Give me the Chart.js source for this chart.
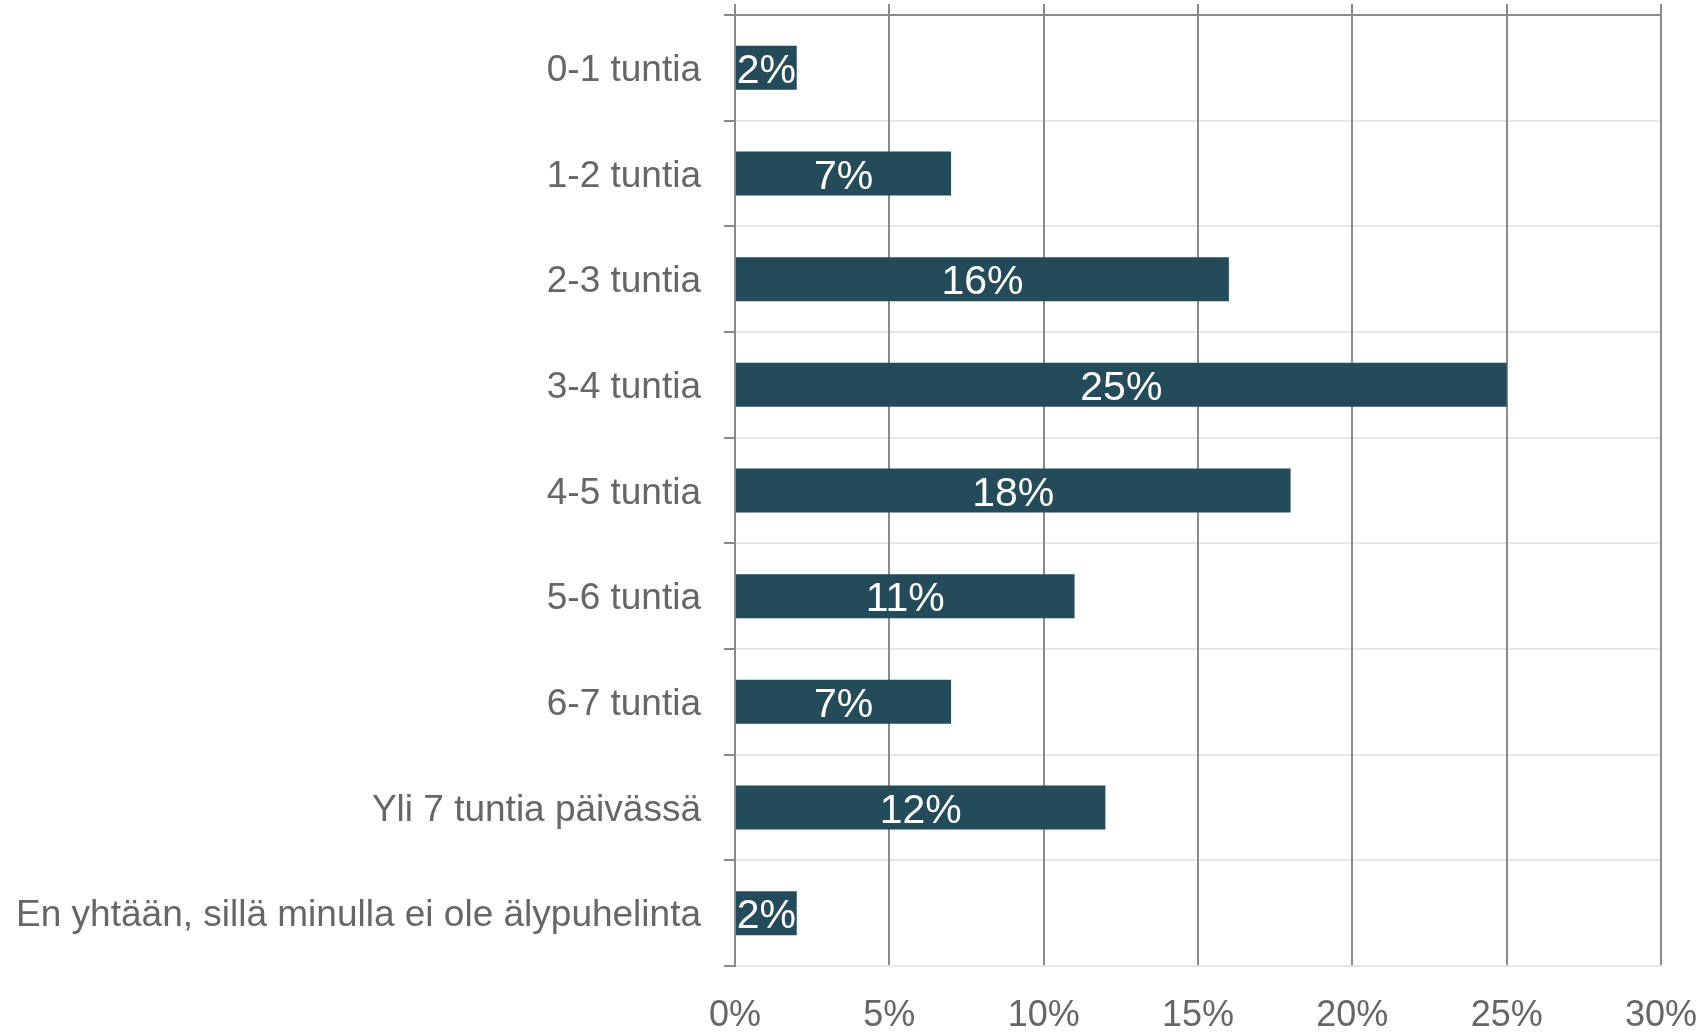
<!DOCTYPE html>
<html>
<head>
<meta charset="utf-8">
<script src="https://cdn.jsdelivr.net/npm/chart.js@4/dist/chart.umd.min.js"></script>
<style>
html,body{margin:0;padding:0;background:#fff;}
#wrap{width:1706px;height:1033px;position:relative;}
</style>
</head>
<body>
<div id="wrap"><canvas id="c" width="1706" height="1033"></canvas></div>
<script>
const categories = [
  "0-1 tuntia",
  "1-2 tuntia",
  "2-3 tuntia",
  "3-4 tuntia",
  "4-5 tuntia",
  "5-6 tuntia",
  "6-7 tuntia",
  "Yli 7 tuntia päivässä",
  "En yhtään, sillä minulla ei ole älypuhelinta"
];
const values = [2, 7, 16, 25, 18, 11, 7, 12, 2];
const xMin = 0, xMax = 30, xStep = 5;

const FONT = "'Liberation Sans', Arial, sans-serif";
const DARK = '#8a8a8a';
const LIGHT = '#e6e6e6';
const TEXT = '#666666';
const BAR = '#234b5a';

const labelPlugin = {
  id: 'barLabels',
  afterDatasetsDraw(chart) {
    const ctx = chart.ctx;
    const meta = chart.getDatasetMeta(0);
    ctx.save();
    ctx.fillStyle = '#ffffff';
    ctx.font = '41px ' + FONT;
    ctx.textAlign = 'center';
    ctx.textBaseline = 'middle';
    meta.data.forEach((bar, i) => {
      const cx = (bar.x + bar.base) / 2;
      ctx.fillText(values[i] + '%', cx, bar.y + 4);
    });
    ctx.restore();
  }
};

function noPad(s) {
  s.paddingTop = 0; s.paddingBottom = 0; s.paddingLeft = 0; s.paddingRight = 0;
}

new Chart(document.getElementById('c'), {
  type: 'bar',
  data: {
    labels: categories,
    datasets: [{
      data: values,
      backgroundColor: BAR,
      borderWidth: 0,
      categoryPercentage: 1,
      barPercentage: 0.416
    }]
  },
  plugins: [labelPlugin],
  options: {
    indexAxis: 'y',
    responsive: false,
    animation: false,
    layout: { padding: { left: 0, right: 45, top: 0, bottom: 0 } },
    plugins: { legend: { display: false }, tooltip: { enabled: false } },
    scales: {
      x: {
        position: 'bottom',
        min: xMin, max: xMax,
        ticks: {
          stepSize: xStep,
          color: TEXT,
          font: { family: FONT, size: 36 },
          padding: 28,
          callback: v => v + '%'
        },
        grid: { color: DARK, lineWidth: 2, drawTicks: false },
        border: { color: LIGHT, width: 2 },
        afterFit: s => { s.height = 67; noPad(s); }
      },
      x2: {
        position: 'top',
        min: xMin, max: xMax,
        ticks: { stepSize: xStep, display: false },
        grid: { drawOnChartArea: false, drawTicks: true, tickLength: 11, color: DARK, lineWidth: 2 },
        border: { color: DARK, width: 2, z: 1 },
        afterFit: s => { s.height = 15; noPad(s); }
      },
      y: {
        ticks: {
          color: TEXT,
          font: { family: FONT, size: 37 },
          padding: 23,
          labelOffset: 3
        },
        grid: { color: LIGHT, lineWidth: 2, tickColor: DARK, tickLength: 11, z: -2 },
        border: { color: DARK, width: 2, z: 1 },
        afterFit: s => { s.width = 735; noPad(s); }
      }
    }
  }
});
</script>
</body>
</html>
